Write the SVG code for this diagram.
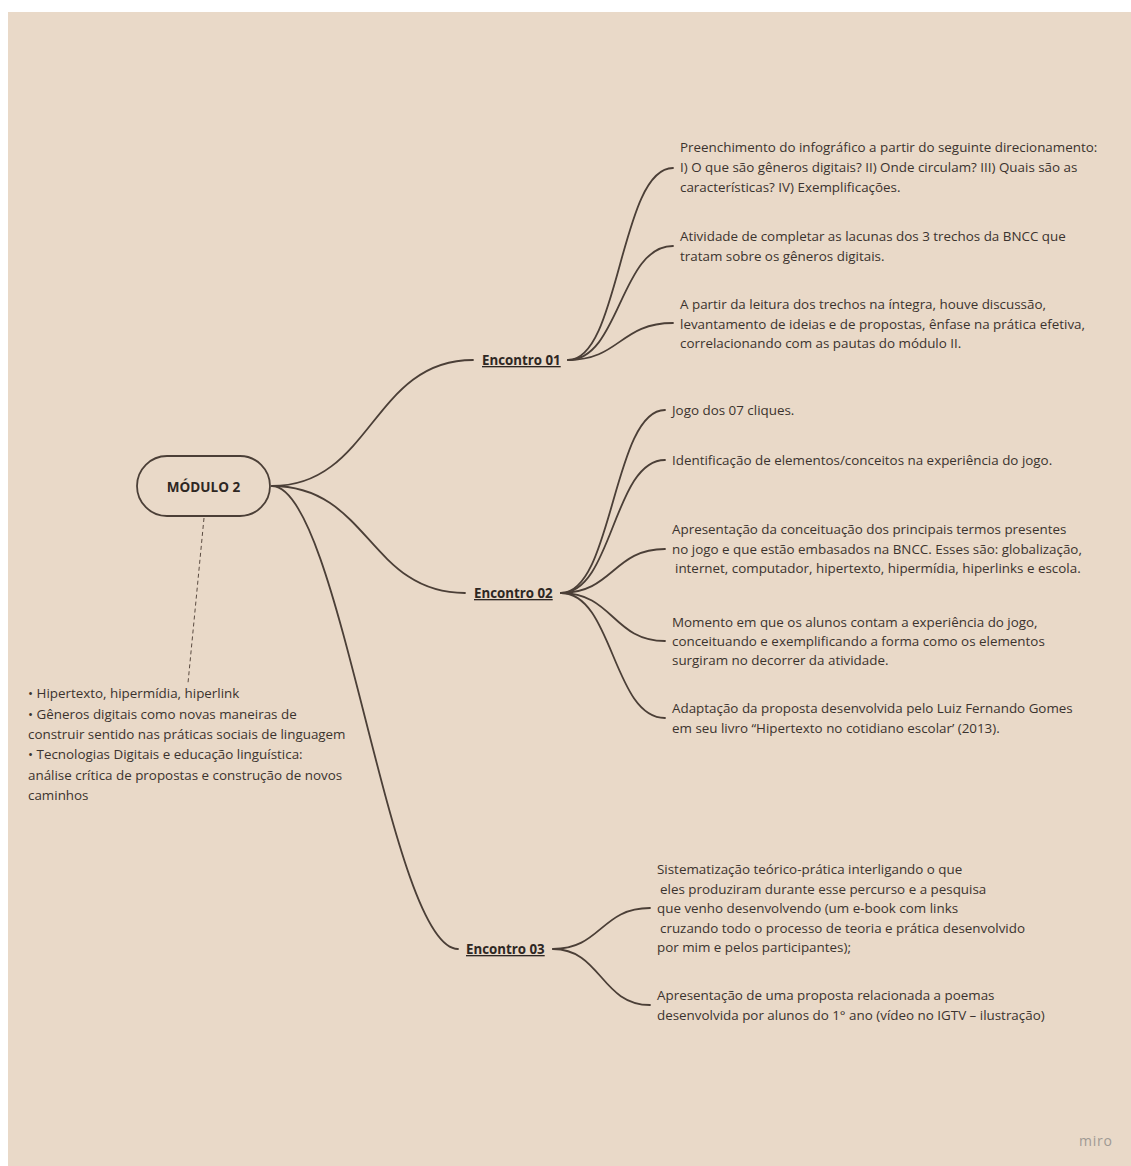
<svg xmlns="http://www.w3.org/2000/svg" width="1131" height="1166" viewBox="0 0 1131 1166">
<style>
.t{font-family:"Open Sans","Noto Sans","DejaVu Sans",sans-serif;font-size:13.4px;fill:#3b332e}
.h{font-family:"Open Sans","Noto Sans","DejaVu Sans",sans-serif;font-size:13.3px;font-weight:bold;fill:#2e2723;text-decoration:underline}
.c{fill:none;stroke:#4b3f37;stroke-width:1.8;stroke-linecap:round}
</style>
<rect x="0" y="0" width="1131" height="1166" fill="#ffffff"/>
<rect x="8" y="12" width="1123" height="1154" fill="#e9d9c8"/>
<g id="connectors">
<path class="c" d="M272,486 C372,486 372,360 473,360"/>
<path class="c" d="M272,486 C369,486 369,593 465,593"/>
<path class="c" d="M272,486 C340,486 390,949 458,949"/>
<path class="c" d="M568,360 C620,360 620,168 673,168"/>
<path class="c" d="M568,360 C620,360 620,246 673,246"/>
<path class="c" d="M568,360 C620,360 620,323 673,323"/>
<path class="c" d="M561,593 C613,593 613,410 665,410"/>
<path class="c" d="M561,593 C613,593 613,460 665,460"/>
<path class="c" d="M561,593 C613,593 613,549 665,549"/>
<path class="c" d="M561,593 C613,593 613,641 665,641"/>
<path class="c" d="M561,593 C613,593 613,718 665,718"/>
<path class="c" d="M553,949 C601,949 601,908 650,908"/>
<path class="c" d="M553,949 C601,949 601,1005 650,1005"/>
<path d="M204,518 L188,683" fill="none" stroke="#5a4b41" stroke-width="1" stroke-dasharray="4 3"/>
</g>
<g id="modulo2">
<rect x="137" y="456" width="133" height="60" rx="30" ry="30" fill="#e9d9c8" stroke="#4b3f37" stroke-width="1.8"/>
<text x="203.5" y="491.5" text-anchor="middle" style="font-family:'Open Sans','Noto Sans',sans-serif;font-size:13.5px;font-weight:bold;fill:#2e2723">MÓDULO 2</text>
</g>
<g id="notes">
<text class="t" x="28" y="698">• Hipertexto, hipermídia, hiperlink</text>
<text class="t" x="28" y="718.5">• Gêneros digitais como novas maneiras de</text>
<text class="t" x="28" y="739">construir sentido nas práticas sociais de linguagem</text>
<text class="t" x="28" y="759">• Tecnologias Digitais e educação linguística:</text>
<text class="t" x="28" y="779.5">análise crítica de propostas e construção de novos</text>
<text class="t" x="28" y="800">caminhos</text>
</g>
<g id="encontro01"><text class="h" x="482" y="365">Encontro 01</text></g>
<g id="encontro02"><text class="h" x="474" y="598">Encontro 02</text></g>
<g id="encontro03"><text class="h" x="466" y="954">Encontro 03</text></g>
<g id="e1-1">
<text class="t" x="680" y="152">Preenchimento do infográfico a partir do seguinte direcionamento:</text>
<text class="t" x="680" y="172">I) O que são gêneros digitais? II) Onde circulam? III) Quais são as</text>
<text class="t" x="680" y="192">características? IV) Exemplificações.</text>
</g>
<g id="e1-2">
<text class="t" x="680" y="241">Atividade de completar as lacunas dos 3 trechos da BNCC que</text>
<text class="t" x="680" y="260.5">tratam sobre os gêneros digitais.</text>
</g>
<g id="e1-3">
<text class="t" x="680" y="309">A partir da leitura dos trechos na íntegra, houve discussão,</text>
<text class="t" x="680" y="328.5">levantamento de ideias e de propostas, ênfase na prática efetiva,</text>
<text class="t" x="680" y="348">correlacionando com as pautas do módulo II.</text>
</g>
<g id="e2-1"><text class="t" x="672" y="415">Jogo dos 07 cliques.</text></g>
<g id="e2-2"><text class="t" x="672" y="465">Identificação de elementos/conceitos na experiência do jogo.</text></g>
<g id="e2-3">
<text class="t" x="672" y="534">Apresentação da conceituação dos principais termos presentes</text>
<text class="t" x="672" y="553.5">no jogo e que estão embasados na BNCC. Esses são: globalização,</text>
<text class="t" x="675" y="573">internet, computador, hipertexto, hipermídia, hiperlinks e escola.</text>
</g>
<g id="e2-4">
<text class="t" x="672" y="627">Momento em que os alunos contam a experiência do jogo,</text>
<text class="t" x="672" y="646">conceituando e exemplificando a forma como os elementos</text>
<text class="t" x="672" y="665">surgiram no decorrer da atividade.</text>
</g>
<g id="e2-5">
<text class="t" x="672" y="713">Adaptação da proposta desenvolvida pelo Luiz Fernando Gomes</text>
<text class="t" x="672" y="732.5">em seu livro “Hipertexto no cotidiano escolar’ (2013).</text>
</g>
<g id="e3-1">
<text class="t" x="657" y="874">Sistematização teórico-prática interligando o que</text>
<text class="t" x="660" y="893.5">eles produziram durante esse percurso e a pesquisa</text>
<text class="t" x="657" y="913">que venho desenvolvendo (um e-book com links</text>
<text class="t" x="660" y="932.5">cruzando todo o processo de teoria e prática desenvolvido</text>
<text class="t" x="657" y="952">por mim e pelos participantes);</text>
</g>
<g id="e3-2">
<text class="t" x="657" y="1000">Apresentação de uma proposta relacionada a poemas</text>
<text class="t" x="657" y="1019.5">desenvolvida por alunos do 1° ano (vídeo no IGTV – ilustração)</text>
</g>
<text x="1079" y="1146" style="font-family:'Open Sans','Noto Sans',sans-serif;font-size:14px;fill:#a09a94;letter-spacing:0.8px">miro</text>
</svg>
